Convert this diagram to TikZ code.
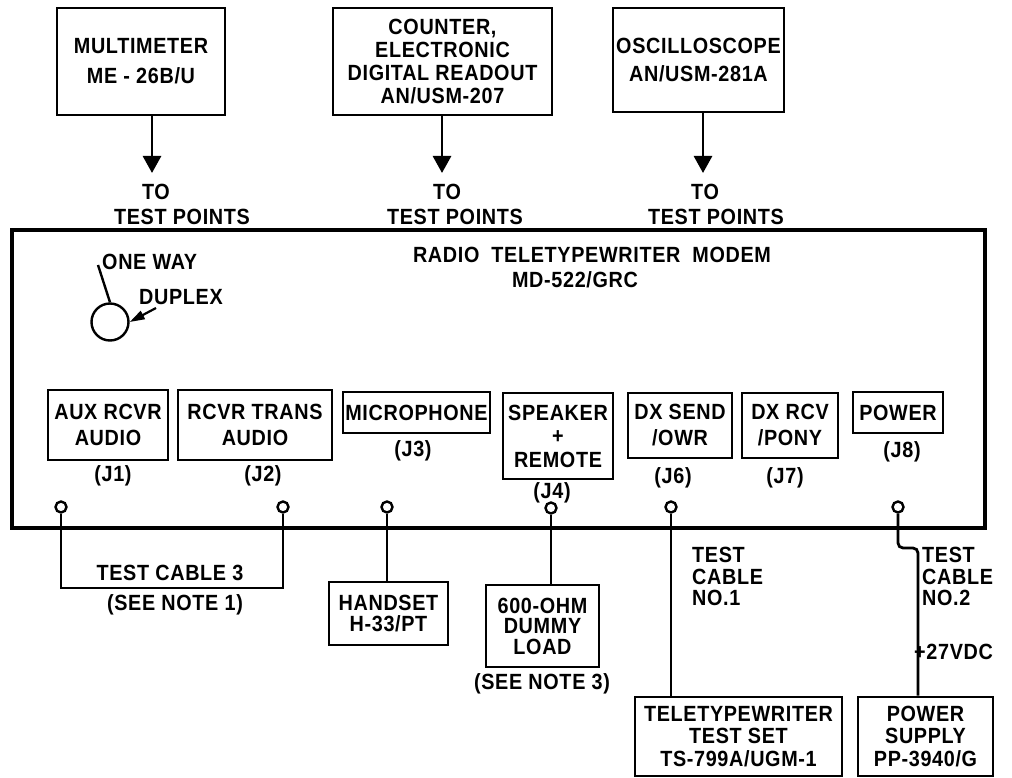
\documentclass[tikz,border=0pt]{standalone}
\usepackage{fontspec}
\setmainfont{Liberation Sans}[LetterSpace=3,FakeStretch=0.9]
\usetikzlibrary{arrows.meta}
\begin{document}
\begin{tikzpicture}[x=1pt,y=-1pt,
  every node/.style={font=\bfseries\fontsize{22}{26}\selectfont, inner sep=0pt},
  bx/.style n args={2}{draw, line width=2.8pt, align=center, minimum width=#1pt, minimum height=#2pt},
  wire/.style={line width=2.8pt},
  arr/.style={line width=2.8pt, -{Triangle[width=18pt,length=17pt]}},
  jack/.style={circle, draw, line width=2.4pt, minimum size=11pt, inner sep=0pt, fill=white},
  lsp/.style={font=\bfseries\fontsize{22}{#1}\selectfont}]
\useasboundingbox (0,0) rectangle (1012,778);

% top instruments
\node[bx={168}{107}, lsp=30] (mm) at (141,61.5) {MULTIMETER\\ME - 26B/U};
\node[bx={219}{107}, lsp=23] (ctr) at (442.5,61.5) {COUNTER,\\ELECTRONIC\\DIGITAL READOUT\\AN/USM-207};
\node[bx={171}{104}, lsp=28] (osc) at (698.5,60) {OSCILLOSCOPE\\AN/USM-281A};

\node (to1) at (156,192) {TO};
\node (tp1) at (182,217) {TEST POINTS};
\node (to2) at (447,192) {TO};
\node (tp2) at (455,217) {TEST POINTS};
\node (to3) at (705,192) {TO};
\node (tp3) at (716,217) {TEST POINTS};

\coordinate (a1) at (152,173);
\coordinate (a2) at (442,173);
\coordinate (a3) at (703,173);
\draw[arr] (mm.south -| a1) -- (a1);
\draw[arr] (ctr.south -| a2) -- (a2);
\draw[arr] (osc.south -| a3) -- (a3);

% modem
\node[draw, line width=3.2pt, minimum width=973pt, minimum height=298pt] (modem) at (498.5,379) {};
\node (title) at (592,255) {RADIO\hspace{12pt}TELETYPEWRITER\hspace{12pt}MODEM};
\node (model) at (575,280) {MD-522/GRC};

% switch
\node[circle, draw, line width=2.4pt, minimum size=37pt] (knob) at (110,322) {};
\coordinate (ow) at (98,265);
\draw[line width=2.4pt] (knob.north) -- (ow);
\node[anchor=west] (onew) at (102,262) {ONE WAY};
\coordinate (dp) at (156,308);
\draw[line width=2.2pt, {Triangle[width=9pt,length=15pt]}-] (knob.east) -- (dp);
\node[anchor=west] (dup) at (139,297) {DUPLEX};

% connector panels
\node[bx={120}{70}] (aux) at (108,425) {AUX RCVR\\AUDIO};
\node[bx={154}{70}] (rt) at (255,425) {RCVR TRANS\\AUDIO};
\node[bx={147}{41}] (mic) at (416.5,412.5) {MICROPHONE};
\node[bx={110}{86}, lsp=23.5] (spk) at (558,436) {SPEAKER\\+\\REMOTE};
\node[bx={104}{65}] (dxs) at (680,425.5) {DX SEND\\/OWR};
\node[bx={96}{65}] (dxr) at (790,425.5) {DX RCV\\/PONY};
\node[bx={90}{41}] (pwr) at (898,412.5) {POWER};

\node (lj1) at (113,476) {(J1)};
\node (lj2) at (263,476) {(J2)};
\node (lj3) at (413,451) {(J3)};
\node (lj4) at (552,493) {(J4)};
\node (lj6) at (673,478) {(J6)};
\node (lj7) at (785,478) {(J7)};
\node (lj8) at (902,452) {(J8)};

% jacks
\node[jack] (j1) at (61,507) {};
\node[jack] (j2) at (283,507) {};
\node[jack] (j3) at (387,507) {};
\node[jack] (j4) at (551,508) {};
\node[jack] (j6) at (671,507) {};
\node[jack] (j8) at (898,507) {};

% external equipment
\node (tc3) at (170,573) {TEST CABLE 3};
\node (n1) at (175,605) {(SEE NOTE 1)};
\node[bx={119}{63}, lsp=21] (hs) at (388.5,613.5) {HANDSET\\H-33/PT};
\node[bx={113}{82}, lsp=20.5] (dl) at (542.5,626) {600-OHM\\DUMMY\\LOAD};
\node (n3) at (542,684) {(SEE NOTE 3)};
\node[bx={207}{79}, lsp=22.5] (tt) at (738.5,736.5) {TELETYPEWRITER\\TEST SET\\TS-799A/UGM-1};
\node[bx={135}{79}, lsp=22.5] (ps) at (925.5,736.5) {POWER\\SUPPLY\\PP-3940/G};
\node[anchor=west, align=left, lsp=21.5] (tc1) at (692,576.5) {TEST\\CABLE\\NO.1};
\node[anchor=west, align=left, lsp=21.5] (tc2) at (922,576.5) {TEST\\CABLE\\NO.2};
\node[anchor=west] (v27) at (914,652) {+27VDC};

% cables
\coordinate (c3l) at (61,588);
\coordinate (c3r) at (283,588);
\draw[wire] (j1.south) -- (c3l) -- (c3r) -- (j2.south);
\draw[wire] (j3.south) -- (j3 |- hs.north);
\draw[wire] (j4.south) -- (j4 |- dl.north);
\draw[wire] (j6.south) -- (j6 |- tt.north);
\coordinate (c8a) at (898,548);
\coordinate (c8b) at (918,548);
\draw[wire, rounded corners=5pt] (j8.south) -- (c8a) -- (c8b) -- (c8b |- ps.north);
\end{tikzpicture}
\end{document}
